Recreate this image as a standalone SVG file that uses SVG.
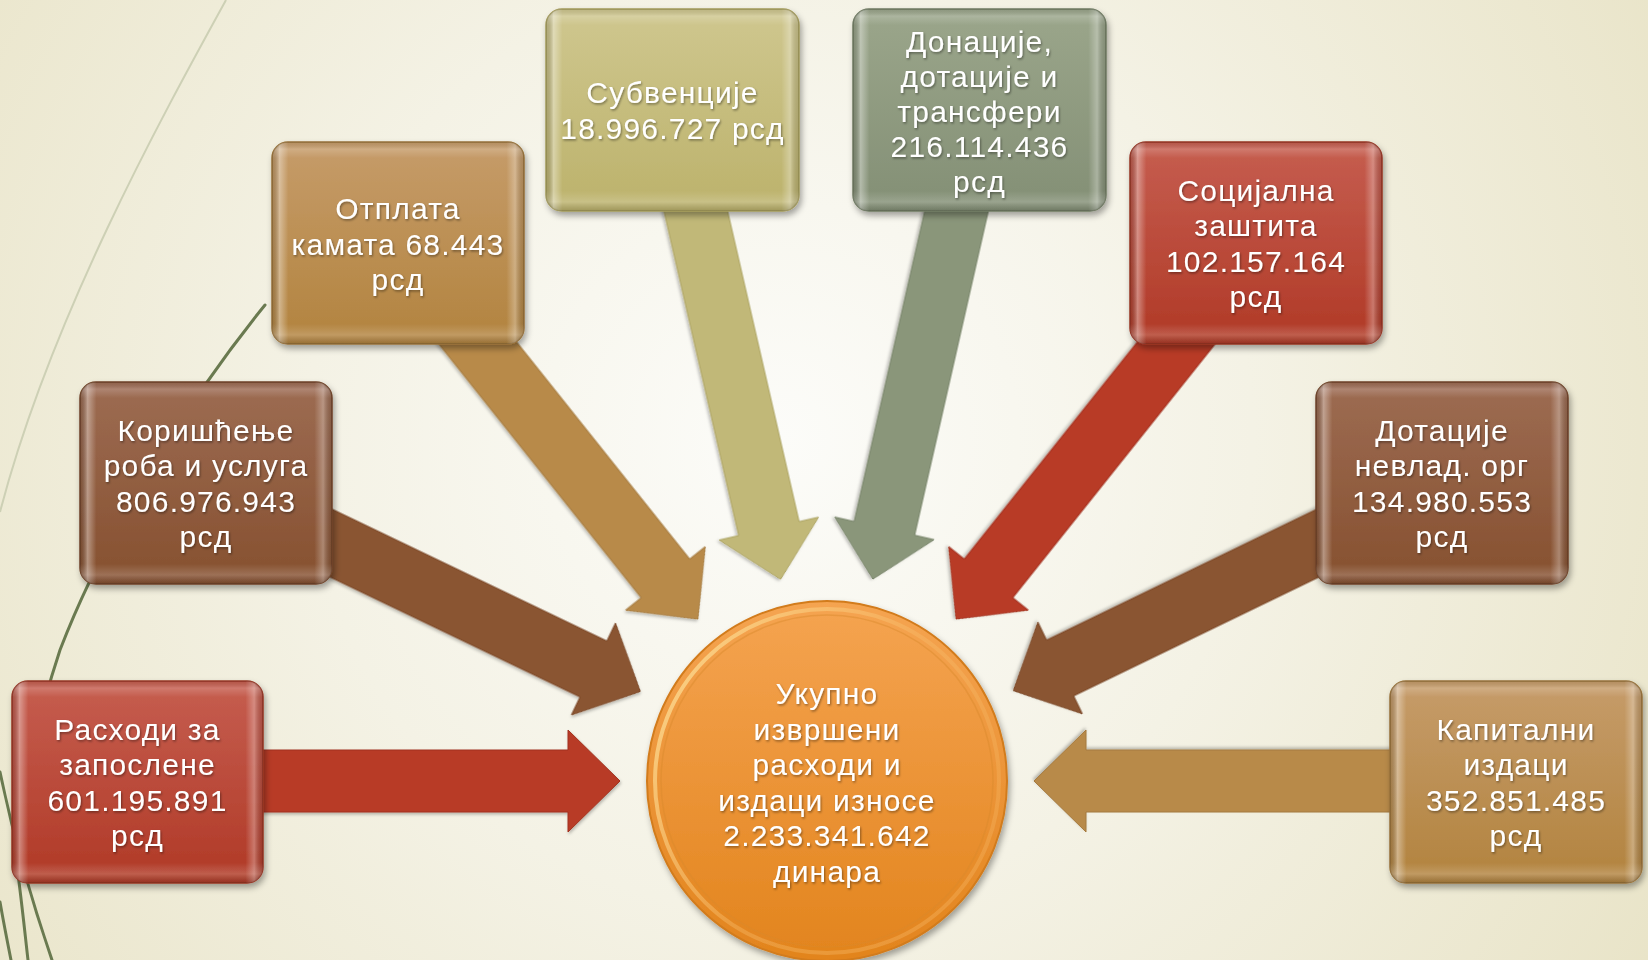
<svg xmlns="http://www.w3.org/2000/svg" width="1648" height="960" viewBox="0 0 1648 960">
<defs>
  <radialGradient id="bg" cx="780" cy="440" r="1050" gradientUnits="userSpaceOnUse">
    <stop offset="0" stop-color="#fcfcf9"/>
    <stop offset="0.45" stop-color="#f4f2e5"/>
    <stop offset="1" stop-color="#e8e3c6"/>
  </radialGradient>
  <linearGradient id="gRed" x1="0" y1="0" x2="0" y2="1">
    <stop offset="0" stop-color="#c65e50"/><stop offset="1" stop-color="#b03926"/>
  </linearGradient>
  <linearGradient id="gBrown" x1="0" y1="0" x2="0" y2="1">
    <stop offset="0" stop-color="#9d6c53"/><stop offset="1" stop-color="#86502f"/>
  </linearGradient>
  <linearGradient id="gTan" x1="0" y1="0" x2="0" y2="1">
    <stop offset="0" stop-color="#c69c6a"/><stop offset="1" stop-color="#b2833e"/>
  </linearGradient>
  <linearGradient id="gOlive" x1="0" y1="0" x2="0" y2="1">
    <stop offset="0" stop-color="#cfc78f"/><stop offset="1" stop-color="#bcb26b"/>
  </linearGradient>
  <linearGradient id="gSage" x1="0" y1="0" x2="0" y2="1">
    <stop offset="0" stop-color="#9ba68b"/><stop offset="1" stop-color="#838f75"/>
  </linearGradient>
  <linearGradient id="bevelH" x1="0" y1="0" x2="1" y2="0">
    <stop offset="0" stop-color="#000" stop-opacity="0.12"/>
    <stop offset="0.03" stop-color="#fff" stop-opacity="0.38"/>
    <stop offset="0.065" stop-color="#fff" stop-opacity="0"/>
    <stop offset="0.93" stop-color="#fff" stop-opacity="0"/>
    <stop offset="0.965" stop-color="#fff" stop-opacity="0.3"/>
    <stop offset="1" stop-color="#000" stop-opacity="0.12"/>
  </linearGradient>
  <linearGradient id="bevelV" x1="0" y1="0" x2="0" y2="1">
    <stop offset="0" stop-color="#000" stop-opacity="0.08"/>
    <stop offset="0.035" stop-color="#fff" stop-opacity="0.18"/>
    <stop offset="0.08" stop-color="#fff" stop-opacity="0"/>
    <stop offset="0.9" stop-color="#fff" stop-opacity="0"/>
    <stop offset="0.955" stop-color="#fff" stop-opacity="0.18"/>
    <stop offset="1" stop-color="#000" stop-opacity="0.15"/>
  </linearGradient>
  <linearGradient id="gCircle" x1="0" y1="0" x2="0" y2="1">
    <stop offset="0" stop-color="#f5a451"/><stop offset="1" stop-color="#e2841d"/>
  </linearGradient>
  <linearGradient id="gRim" x1="0" y1="0.2" x2="1" y2="0.8">
    <stop offset="0" stop-color="#fbd58a" stop-opacity="0.95"/>
    <stop offset="0.5" stop-color="#f8c070" stop-opacity="0.35"/>
    <stop offset="1" stop-color="#f2a850" stop-opacity="0.5"/>
  </linearGradient>
  <filter id="shadow" x="-10%" y="-10%" width="125%" height="130%">
    <feDropShadow dx="2" dy="4" stdDeviation="3" flood-color="#000" flood-opacity="0.35"/>
  </filter>
  <filter id="ashadow" x="-10%" y="-10%" width="120%" height="120%">
    <feDropShadow dx="1" dy="2" stdDeviation="1.5" flood-color="#000" flood-opacity="0.25"/>
  </filter>
  <filter id="tshadow" x="-5%" y="-20%" width="110%" height="140%">
    <feDropShadow dx="1" dy="1.5" stdDeviation="0.8" flood-color="#000" flood-opacity="0.4"/>
  </filter>
  <path id="arrowShape" d="M-482,-31 L-52,-31 L-52,-51 L0,0 L-52,51 L-52,31 L-482,31 Z"/>
</defs>
<style>
  .lbl { font-family: "Liberation Sans", "DejaVu Sans", sans-serif; font-size: 30px; fill: #ffffff; text-anchor: middle; letter-spacing: 1.2px; filter: url(#tshadow); }
  .box { filter: url(#shadow); }
  .arrow { filter: url(#ashadow); stroke-width: 1; }
  .grass { fill: none; stroke: #6a7a50; stroke-width: 3; stroke-linecap: round; }
</style>

<rect x="0" y="0" width="1648" height="960" fill="url(#bg)"/>

<g id="decor">
  <path d="M226,0 C160,120 50,320 0,512" fill="none" stroke="#cdd0b5" stroke-width="2"/>
  <path class="grass" d="M265,305 C200,385 110,520 60,650 C40,710 25,780 15,840" stroke-width="2.5"/>
  <path class="grass" d="M0,772 C12,830 28,890 52,960"/>
  <path class="grass" d="M14,845 C20,885 24,925 28,960"/>
  <path class="grass" d="M0,902 C4,925 8,945 11,960"/>
</g>

<g id="connectors">
  <use href="#arrowShape" class="arrow" fill="#b83b27" stroke="#a2331f" transform="translate(620,781) rotate(0)"/>
  <use href="#arrowShape" class="arrow" fill="#8a5431" stroke="#7a4828" transform="translate(640.4,691.5) rotate(25.63)"/>
  <use href="#arrowShape" class="arrow" fill="#b88a4a" stroke="#a57a3e" transform="translate(697.9,619.1) rotate(51.43)"/>
  <use href="#arrowShape" class="arrow" fill="#c1b878" stroke="#ada463" transform="translate(780.6,579.3) rotate(77.03)"/>
  <use href="#arrowShape" class="arrow" fill="#8a967a" stroke="#78846a" transform="translate(872.9,579.1) rotate(102.8)"/>
  <use href="#arrowShape" class="arrow" fill="#b83b27" stroke="#a2331f" transform="translate(956.1,619.1) rotate(128.57)"/>
  <use href="#arrowShape" class="arrow" fill="#8a5431" stroke="#7a4828" transform="translate(1013.3,690.7) rotate(154.15)"/>
  <use href="#arrowShape" class="arrow" fill="#b88a4a" stroke="#a57a3e" transform="translate(1034,781) rotate(180)"/>
</g>

<g id="n1">
  <g class="box">
    <rect x="12" y="681" width="251" height="202" rx="16" fill="url(#gRed)" stroke="#963424" stroke-width="1.5"/>
  </g>
  <rect x="12" y="681" width="251" height="202" rx="16" fill="url(#bevelH)"/>
  <rect x="12" y="681" width="251" height="202" rx="16" fill="url(#bevelV)"/>
  <text class="lbl" x="137.5" y="739.8">Расходи за</text>
  <text class="lbl" x="137.5" y="775.3">запослене</text>
  <text class="lbl" x="137.5" y="810.8">601.195.891</text>
  <text class="lbl" x="137.5" y="846.3">рсд</text>
</g>

<g id="n2">
  <g class="box">
    <rect x="80" y="382" width="252" height="202" rx="16" fill="url(#gBrown)" stroke="#6f4228" stroke-width="1.5"/>
  </g>
  <rect x="80" y="382" width="252" height="202" rx="16" fill="url(#bevelH)"/>
  <rect x="80" y="382" width="252" height="202" rx="16" fill="url(#bevelV)"/>
  <text class="lbl" x="206" y="440.8">Коришћење</text>
  <text class="lbl" x="206" y="476.3">роба и услуга</text>
  <text class="lbl" x="206" y="511.8">806.976.943</text>
  <text class="lbl" x="206" y="547.3">рсд</text>
</g>

<g id="n3">
  <g class="box">
    <rect x="272" y="142" width="252" height="202" rx="16" fill="url(#gTan)" stroke="#977038" stroke-width="1.5"/>
  </g>
  <rect x="272" y="142" width="252" height="202" rx="16" fill="url(#bevelH)"/>
  <rect x="272" y="142" width="252" height="202" rx="16" fill="url(#bevelV)"/>
  <text class="lbl" x="398" y="219">Отплата</text>
  <text class="lbl" x="398" y="254.5">камата 68.443</text>
  <text class="lbl" x="398" y="290">рсд</text>
</g>

<g id="n4">
  <g class="box">
    <rect x="546" y="9" width="253" height="202" rx="16" fill="url(#gOlive)" stroke="#a39a5a" stroke-width="1.5"/>
  </g>
  <rect x="546" y="9" width="253" height="202" rx="16" fill="url(#bevelH)"/>
  <rect x="546" y="9" width="253" height="202" rx="16" fill="url(#bevelV)"/>
  <text class="lbl" x="672.5" y="103.3">Субвенције</text>
  <text class="lbl" x="672.5" y="138.8">18.996.727 рсд</text>
</g>

<g id="n5">
  <g class="box">
    <rect x="853" y="9" width="253" height="202" rx="16" fill="url(#gSage)" stroke="#6f7a62" stroke-width="1.5"/>
  </g>
  <rect x="853" y="9" width="253" height="202" rx="16" fill="url(#bevelH)"/>
  <rect x="853" y="9" width="253" height="202" rx="16" fill="url(#bevelV)"/>
  <text class="lbl" x="979.5" y="51.5">Донације,</text>
  <text class="lbl" x="979.5" y="86.5">дотације и</text>
  <text class="lbl" x="979.5" y="121.5">трансфери</text>
  <text class="lbl" x="979.5" y="156.5">216.114.436</text>
  <text class="lbl" x="979.5" y="191.5">рсд</text>
</g>

<g id="n6">
  <g class="box">
    <rect x="1130" y="142" width="252" height="202" rx="16" fill="url(#gRed)" stroke="#963424" stroke-width="1.5"/>
  </g>
  <rect x="1130" y="142" width="252" height="202" rx="16" fill="url(#bevelH)"/>
  <rect x="1130" y="142" width="252" height="202" rx="16" fill="url(#bevelV)"/>
  <text class="lbl" x="1256" y="200.8">Социјална</text>
  <text class="lbl" x="1256" y="236.3">заштита</text>
  <text class="lbl" x="1256" y="271.8">102.157.164</text>
  <text class="lbl" x="1256" y="307.3">рсд</text>
</g>

<g id="n7">
  <g class="box">
    <rect x="1316" y="382" width="252" height="202" rx="16" fill="url(#gBrown)" stroke="#6f4228" stroke-width="1.5"/>
  </g>
  <rect x="1316" y="382" width="252" height="202" rx="16" fill="url(#bevelH)"/>
  <rect x="1316" y="382" width="252" height="202" rx="16" fill="url(#bevelV)"/>
  <text class="lbl" x="1442" y="440.8">Дотације</text>
  <text class="lbl" x="1442" y="476.3">невлад. орг</text>
  <text class="lbl" x="1442" y="511.8">134.980.553</text>
  <text class="lbl" x="1442" y="547.3">рсд</text>
</g>

<g id="n8">
  <g class="box">
    <rect x="1390" y="681" width="252" height="202" rx="16" fill="url(#gTan)" stroke="#977038" stroke-width="1.5"/>
  </g>
  <rect x="1390" y="681" width="252" height="202" rx="16" fill="url(#bevelH)"/>
  <rect x="1390" y="681" width="252" height="202" rx="16" fill="url(#bevelV)"/>
  <text class="lbl" x="1516" y="739.8">Капитални</text>
  <text class="lbl" x="1516" y="775.3">издаци</text>
  <text class="lbl" x="1516" y="810.8">352.851.485</text>
  <text class="lbl" x="1516" y="846.3">рсд</text>
</g>

<g id="center">
  <circle cx="827" cy="781" r="180" fill="url(#gCircle)" stroke="#d27b1c" stroke-width="2" filter="url(#shadow)"/>
  <circle cx="827" cy="781" r="172" fill="none" stroke="url(#gRim)" stroke-width="4"/>
  <circle cx="827" cy="781" r="166" fill="none" stroke="#d98a2c" stroke-opacity="0.45" stroke-width="1.5"/>
  <text class="lbl" x="827" y="704">Укупно</text>
  <text class="lbl" x="827" y="739.5">извршени</text>
  <text class="lbl" x="827" y="775">расходи и</text>
  <text class="lbl" x="827" y="810.5">издаци износе</text>
  <text class="lbl" x="827" y="846">2.233.341.642</text>
  <text class="lbl" x="827" y="881.5">динара</text>
</g>
</svg>
